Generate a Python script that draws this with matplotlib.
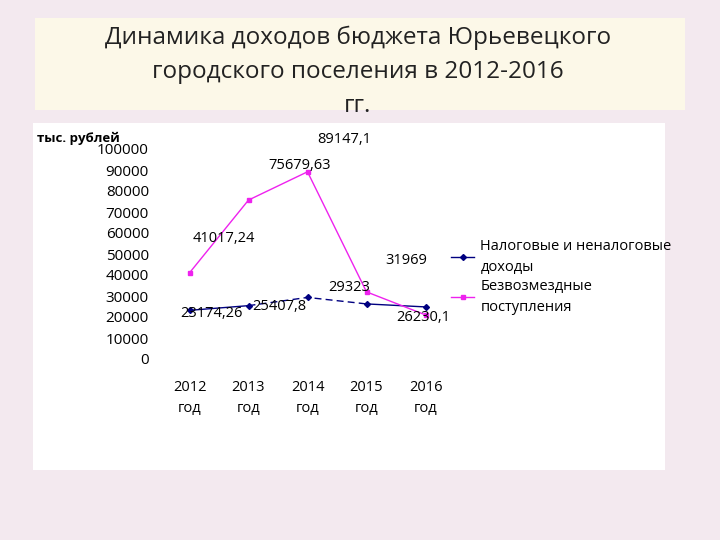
import matplotlib.pyplot as plt
from matplotlib.patches import Rectangle

plt.rcParams['font.family'] = ['Open Sans', 'DejaVu Sans']

years = ['2012\nгод', '2013\nгод', '2014\nгод', '2015\nгод', '2016\nгод']
tax = [23174.26, 25407.8, 29323, 26230.1, 24800]
free = [41017.24, 75679.63, 89147.1, 31969, 21000]
tax_labels = ['23174,26', '25407,8', '29323', '26230,1', '']
free_labels = ['41017,24', '75679,63', '89147,1', '31969', '']

fig = plt.figure(figsize=(7.2, 5.4), dpi=100)
fig.patch.set_facecolor('#f3e9ef')

# title box and white chart area
fig.patches.append(Rectangle((35 / 720, 1 - 110 / 540), 650 / 720, 92 / 540, zorder=-5,
                             transform=fig.transFigure, facecolor='#fcf8e8', edgecolor='none'))
fig.patches.append(Rectangle((33 / 720, 1 - 470 / 540), 632 / 720, 347 / 540, zorder=-5,
                             transform=fig.transFigure, facecolor='white', edgecolor='none'))
fig.text(0.497, 1 - 72 / 540, 'Динамика доходов бюджета Юрьевецкого\nгородского поселения в 2012-2016\nгг.',
         ha='center', va='center', fontsize=17.5, linespacing=1.55, color='#222222')

ax = fig.add_axes([160 / 720, 1 - 359 / 540, 295 / 720, 210 / 540])
ax.set_facecolor('none')
x = list(range(len(years)))
navy = '#000080'
# blue line: solid at the ends, dashed in the middle
ax.plot(x[:2], tax[:2], color=navy, linewidth=1)
ax.plot(x[1:4], tax[1:4], color=navy, linewidth=1, linestyle=(0, (5, 3)))
ax.plot(x[3:], tax[3:], color=navy, linewidth=1)
ax.plot(x, tax, color=navy, marker='D', markersize=3, linewidth=0)
ax.plot([], [], color=navy, marker='D', markersize=3, linewidth=1,
        label='Налоговые и неналоговые\nдоходы')
ax.plot(x, free, color='#ee22ee', marker='s', markersize=3, linewidth=1,
        label='Безвозмездные\nпоступления')

ax.set_xlim(-0.5, 4.5)
ax.set_ylim(0, 100000)
ax.set_yticks(range(0, 100001, 10000))
ax.set_xticks(x)
ax.set_xticklabels(years, fontsize=10.5, linespacing=1.6)
ax.tick_params(axis='y', labelsize=11, length=0, pad=8)
ax.tick_params(axis='x', length=0, pad=15)
for s in ax.spines.values():
    s.set_visible(False)

# data labels
offs_tax = [(0.37, -1300), (0.53, -200), (0.71, 4500), (0.97, -6700), (0, 0)]
for i, (t, o) in enumerate(zip(tax_labels, offs_tax)):
    if t:
        ax.text(i + o[0], tax[i] + o[1], t, ha='center', va='center', fontsize=10.5)
offs_free = [(0.59, 16600), (0.86, 16700), (0.63, 15600), (0.68, 14700), (0, 0)]
for i, (t, o) in enumerate(zip(free_labels, offs_free)):
    if t:
        ax.text(i + o[0], free[i] + o[1], t, ha='center', va='center', fontsize=10.5)

fig.text(37 / 720, 1 - 138 / 540, 'тыс. рублей', fontsize=9.5, fontweight='bold', va='center')

leg = fig.legend(loc='upper left', bbox_to_anchor=(438 / 720, 1 - 226 / 540), frameon=False,
                 fontsize=10.5, handlelength=1.6, labelspacing=0.3, handletextpad=0.4)
for t in leg.get_texts():
    t.set_linespacing(1.5)

fig.savefig('out.png', dpi=100, facecolor=fig.get_facecolor())
